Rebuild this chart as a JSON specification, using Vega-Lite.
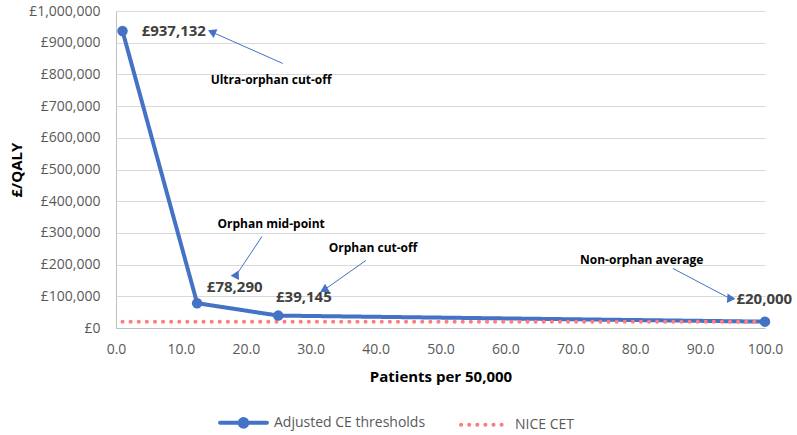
{
  "$schema": "https://vega.github.io/schema/vega-lite/v6.json",
  "width": 649,
  "height": 317,
  "autosize": "none",
  "padding": {"left": 116, "top": 11, "right": 32, "bottom": 107},
  "background": "white",
  "config": {
    "view": {"stroke": null},
    "font": "Open Sans",
    "axis": {
      "labelFont": "Open Sans",
      "labelFontSize": 14,
      "labelColor": "#595959",
      "titleFont": "Open Sans",
      "titleFontSize": 15,
      "titleFontWeight": "bold",
      "titleColor": "#000000",
      "ticks": false,
      "domain": true,
      "domainColor": "#bfbfbf",
      "labelOverlap": false
    },
    "axisX": {"grid": false, "labelFlush": false, "labelPadding": 14, "titlePadding": 13, "tickCount": 10},
    "axisY": {"grid": true, "gridColor": "#d9d9d9", "labelPadding": 16, "titlePadding": 4, "tickCount": 10}
  },
  "datasets": {
    "series": [
      {"x": 1, "y": 937132, "series": "Adjusted CE thresholds"},
      {"x": 12.5, "y": 78290, "series": "Adjusted CE thresholds"},
      {"x": 25, "y": 39145, "series": "Adjusted CE thresholds"},
      {"x": 100, "y": 20000, "series": "Adjusted CE thresholds"},
      {"x": 1, "y": 20000, "series": "NICE CET"},
      {"x": 100, "y": 20000, "series": "NICE CET"}
    ],
    "values": [
      {"x": 3.95, "y": 936000, "text": "£937,132"},
      {"x": 14.0, "y": 128000, "text": "£78,290"},
      {"x": 24.65, "y": 96500, "text": "£39,145"},
      {"x": 95.6, "y": 90000, "text": "£20,000"}
    ],
    "notes": [
      {"label": "Ultra-orphan cut-off", "tx": 23.9, "ty": 781000, "x1": 25.7, "y1": 834500, "x2": 14.95, "y2": 932000},
      {"label": "Orphan mid-point", "tx": 23.9, "ty": 327000, "x1": 22.5, "y1": 289000, "x2": 18.5, "y2": 166000},
      {"label": "Orphan cut-off", "tx": 39.6, "ty": 251000, "x1": 38.5, "y1": 213000, "x2": 32.2, "y2": 122000},
      {"label": "Non-orphan average", "tx": 81.0, "ty": 216000, "x1": 85.8, "y1": 188000, "x2": 94.6, "y2": 93000}
    ]
  },
  "layer": [
    {
      "data": {"name": "series"},
      "mark": {"type": "line", "strokeWidth": 4, "strokeCap": "round", "strokeJoin": "round"},
      "encoding": {
        "x": {
          "field": "x", "type": "quantitative",
          "scale": {"domain": [0, 100], "nice": false},
          "axis": {"title": "Patients per 50,000", "format": ".1f"}
        },
        "y": {
          "field": "y", "type": "quantitative",
          "scale": {"domain": [0, 1000000], "nice": false},
          "axis": {"title": "£/QALY", "labelExpr": "'£' + format(datum.value, ',')"}
        },
        "color": {
          "field": "series", "type": "nominal",
          "scale": {"domain": ["Adjusted CE thresholds", "NICE CET"], "range": ["#4472C4", "#FF7C80"]},
          "legend": {
            "title": null, "orient": "none", "direction": "horizontal", "legendX": 102, "legendY": 386,
            "symbolType": "stroke", "symbolSize": 2200, "symbolStrokeWidth": 4,
            "labelFontSize": 14, "labelColor": "#595959", "labelFont": "Open Sans",
            "columnPadding": 27, "labelOffset": 5,
            "encode": {"symbols": {"update": {
              "strokeCap": {"value": "round"},
              "shape": {"signal": "datum.value === 'NICE CET' ? 'stroke' : 'M-1,0H1M0.16,0A0.16,0.16 0 1,1 -0.16,0A0.16,0.16 0 1,1 0.16,0'"},
              "fill": {"signal": "datum.value === 'NICE CET' ? 'transparent' : '#4472C4'"}
            }}}
          }
        },
        "strokeDash": {
          "field": "series", "type": "nominal",
          "scale": {"domain": ["Adjusted CE thresholds", "NICE CET"], "range": [[1, 0], [0.1, 8]]},
          "legend": {
            "title": null, "orient": "none", "direction": "horizontal", "legendX": 102, "legendY": 386,
            "symbolType": "stroke", "symbolSize": 2200, "symbolStrokeWidth": 4,
            "labelFontSize": 14, "labelColor": "#595959", "labelFont": "Open Sans",
            "columnPadding": 27, "labelOffset": 5,
            "encode": {"symbols": {"update": {
              "strokeCap": {"value": "round"},
              "shape": {"signal": "datum.value === 'NICE CET' ? 'stroke' : 'M-1,0H1M0.16,0A0.16,0.16 0 1,1 -0.16,0A0.16,0.16 0 1,1 0.16,0'"},
              "fill": {"signal": "datum.value === 'NICE CET' ? 'transparent' : '#4472C4'"}
            }}}
          }
        }
      }
    },
    {
      "data": {"name": "series"},
      "transform": [{"filter": "datum.series === 'Adjusted CE thresholds'"}],
      "mark": {"type": "circle", "size": 110, "color": "#4472C4", "opacity": 1},
      "encoding": {
        "x": {"field": "x", "type": "quantitative"},
        "y": {"field": "y", "type": "quantitative"}
      }
    },
    {
      "data": {"name": "notes"},
      "mark": {"type": "rule", "color": "#4472C4", "strokeWidth": 1},
      "encoding": {
        "x": {"field": "x1", "type": "quantitative"},
        "y": {"field": "y1", "type": "quantitative"},
        "x2": {"field": "x2"},
        "y2": {"field": "y2"}
      }
    },
    {
      "data": {"name": "notes"},
      "mark": {"type": "point", "shape": "triangle", "filled": true, "size": 90, "color": "#4472C4", "opacity": 1},
      "encoding": {
        "x": {"field": "x2", "type": "quantitative"},
        "y": {"field": "y2", "type": "quantitative"},
        "angle": {
          "field": "label", "type": "nominal",
          "scale": {"domain": ["Ultra-orphan cut-off", "Orphan mid-point", "Orphan cut-off", "Non-orphan average"], "range": [294, 213.7, 234.7, 117.8]},
          "legend": null
        }
      }
    },
    {
      "data": {"name": "notes"},
      "mark": {"type": "text", "align": "center", "baseline": "middle", "fontSize": 12, "fontWeight": "bold", "color": "#000000", "font": "Open Sans"},
      "encoding": {
        "x": {"field": "tx", "type": "quantitative"},
        "y": {"field": "ty", "type": "quantitative"},
        "text": {"field": "label"}
      }
    },
    {
      "data": {"name": "values"},
      "mark": {"type": "text", "align": "left", "baseline": "middle", "fontSize": 15, "fontWeight": "bold", "color": "#404040", "font": "Open Sans"},
      "encoding": {
        "x": {"field": "x", "type": "quantitative"},
        "y": {"field": "y", "type": "quantitative"},
        "text": {"field": "text"}
      }
    }
  ]
}
